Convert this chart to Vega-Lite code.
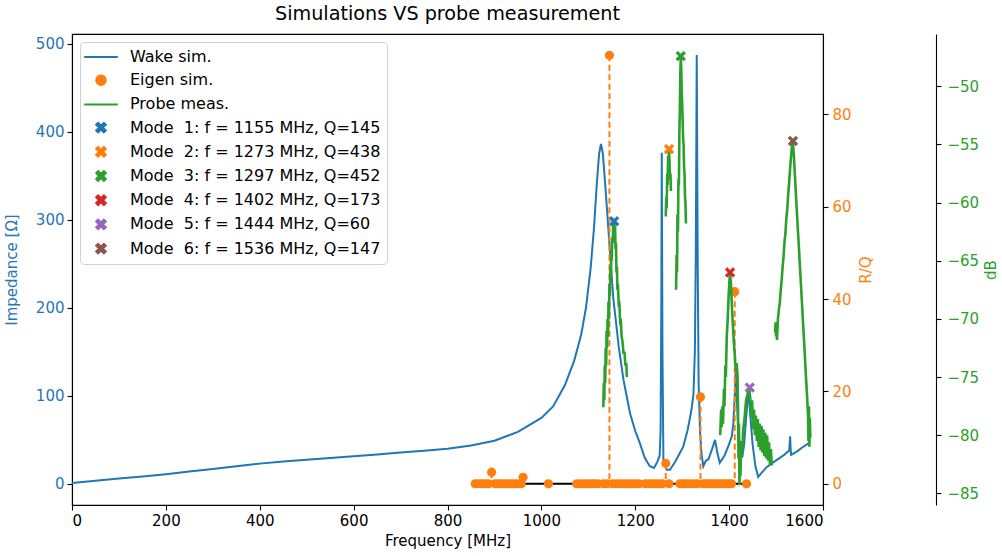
{
  "$schema": "https://vega.github.io/schema/vega-lite/v6.json",
  "width": 751,
  "height": 471,
  "autosize": {"type": "none"},
  "padding": {"left": 72, "top": 34, "right": 179, "bottom": 51},
  "title": {"text": "Simulations VS probe measurement", "fontSize": 19.2, "fontWeight": "normal", "font": "DejaVu Sans", "color": "#000", "offset": 10, "frame": "group", "anchor": "middle"},
  "config": {
    "font": "DejaVu Sans",
    "view": {"stroke": "#000", "strokeWidth": 1.1},
    "axis": {"grid": false, "tickColor": "#000", "domainColor": "#000", "domainWidth": 1.1, "tickWidth": 1.1, "tickSize": 5, "labelFontSize": 15, "titleFontSize": 15, "titleFontWeight": "normal", "labelPadding": 3, "labelColor": "#000", "titleColor": "#000"}
  },
  "datasets": {
    "wake": [
      {"f": 0, "z": 1}, {"f": 50, "z": 3.5}, {"f": 100, "z": 6}, {"f": 150, "z": 8.5}, {"f": 200, "z": 11}, {"f": 250, "z": 14}, {"f": 300, "z": 17}, {"f": 350, "z": 20}, {"f": 400, "z": 23}, {"f": 450, "z": 25.5}, {"f": 500, "z": 27.5}, {"f": 550, "z": 29.5}, {"f": 600, "z": 31.5}, {"f": 650, "z": 33.5}, {"f": 700, "z": 35.5}, {"f": 750, "z": 37.5}, {"f": 800, "z": 40}, {"f": 850, "z": 43.5}, {"f": 900, "z": 49}, {"f": 950, "z": 59}, {"f": 1000, "z": 75}, {"f": 1025, "z": 88}, {"f": 1050, "z": 112}, {"f": 1070, "z": 140}, {"f": 1085, "z": 170}, {"f": 1095, "z": 200}, {"f": 1105, "z": 245}, {"f": 1112, "z": 290}, {"f": 1118, "z": 340}, {"f": 1123, "z": 375}, {"f": 1127, "z": 386}, {"f": 1131, "z": 375}, {"f": 1136, "z": 340}, {"f": 1143, "z": 288}, {"f": 1153, "z": 212}, {"f": 1165, "z": 155}, {"f": 1175, "z": 118}, {"f": 1189, "z": 80}, {"f": 1200, "z": 60}, {"f": 1210, "z": 46}, {"f": 1220, "z": 30}, {"f": 1231, "z": 20}, {"f": 1240, "z": 18}, {"f": 1247, "z": 25}, {"f": 1252, "z": 32}, {"f": 1254, "z": 60}, {"f": 1255.5, "z": 200}, {"f": 1256.5, "z": 376}, {"f": 1258, "z": 150}, {"f": 1260, "z": 25}, {"f": 1267, "z": 16}, {"f": 1274, "z": 16}, {"f": 1285, "z": 25}, {"f": 1295, "z": 35}, {"f": 1302, "z": 42}, {"f": 1312, "z": 62}, {"f": 1320, "z": 85}, {"f": 1324, "z": 102}, {"f": 1327, "z": 150}, {"f": 1329, "z": 260}, {"f": 1331, "z": 487}, {"f": 1333, "z": 260}, {"f": 1335, "z": 115}, {"f": 1338, "z": 60}, {"f": 1341, "z": 35}, {"f": 1345, "z": 20}, {"f": 1350, "z": 26}, {"f": 1356, "z": 28}, {"f": 1364, "z": 40}, {"f": 1370, "z": 50}, {"f": 1375, "z": 35}, {"f": 1380, "z": 24}, {"f": 1390, "z": 32}, {"f": 1400, "z": 45}, {"f": 1406, "z": 55}, {"f": 1409, "z": 69}, {"f": 1412, "z": 100}, {"f": 1414, "z": 129}, {"f": 1417, "z": 90}, {"f": 1420, "z": 55}, {"f": 1423, "z": 42}, {"f": 1428, "z": 30}, {"f": 1432, "z": 45}, {"f": 1437, "z": 80}, {"f": 1441, "z": 107}, {"f": 1444, "z": 85}, {"f": 1450, "z": 45}, {"f": 1456, "z": 20}, {"f": 1462, "z": 8}, {"f": 1470, "z": 13}, {"f": 1480, "z": 19}, {"f": 1490, "z": 23}, {"f": 1501, "z": 27}, {"f": 1515, "z": 32}, {"f": 1528, "z": 38}, {"f": 1530, "z": 54}, {"f": 1531, "z": 40}, {"f": 1532, "z": 33}, {"f": 1545, "z": 37}, {"f": 1555, "z": 41}, {"f": 1569, "z": 46}
    ],
    "eigen": [
      {"f": 859, "rq": 0}, {"f": 866, "rq": 0}, {"f": 873, "rq": 0}, {"f": 880, "rq": 0}, {"f": 887, "rq": 0}, {"f": 894, "rq": 2.5}, {"f": 901, "rq": 0}, {"f": 908, "rq": 0}, {"f": 915, "rq": 0}, {"f": 922, "rq": 0}, {"f": 929, "rq": 0}, {"f": 936, "rq": 0}, {"f": 943, "rq": 0}, {"f": 950, "rq": 0}, {"f": 957, "rq": 0}, {"f": 961, "rq": 1.4},
      {"f": 1015, "rq": 0},
      {"f": 1075, "rq": 0}, {"f": 1083, "rq": 0}, {"f": 1091, "rq": 0}, {"f": 1099, "rq": 0}, {"f": 1106, "rq": 0}, {"f": 1113, "rq": 0}, {"f": 1120, "rq": 0},
      {"f": 1132, "rq": 0}, {"f": 1140, "rq": 0}, {"f": 1145, "rq": 92.8}, {"f": 1152, "rq": 0}, {"f": 1160, "rq": 0}, {"f": 1168, "rq": 0}, {"f": 1176, "rq": 0}, {"f": 1184, "rq": 0}, {"f": 1192, "rq": 0}, {"f": 1200, "rq": 0}, {"f": 1208, "rq": 0},
      {"f": 1221, "rq": 0}, {"f": 1228, "rq": 0}, {"f": 1236, "rq": 0}, {"f": 1243, "rq": 0}, {"f": 1250, "rq": 0}, {"f": 1258, "rq": 0}, {"f": 1265, "rq": 4.4}, {"f": 1272, "rq": 0},
      {"f": 1295, "rq": 0}, {"f": 1302, "rq": 0}, {"f": 1310, "rq": 0}, {"f": 1318, "rq": 0}, {"f": 1326, "rq": 0}, {"f": 1333, "rq": 0}, {"f": 1339, "rq": 18.8}, {"f": 1345, "rq": 0}, {"f": 1352, "rq": 0}, {"f": 1358, "rq": 0}, {"f": 1364, "rq": 0}, {"f": 1370, "rq": 0}, {"f": 1376, "rq": 0}, {"f": 1382, "rq": 0}, {"f": 1388, "rq": 0}, {"f": 1394, "rq": 0}, {"f": 1400, "rq": 0}, {"f": 1405, "rq": 0}, {"f": 1412, "rq": 41.6},
      {"f": 1437, "rq": 0}
    ],
    "probe": [
      {"seg": 1, "f": 1132, "db": -77.6}, {"seg": 1, "f": 1133, "db": -75.5}, {"seg": 1, "f": 1134, "db": -77}, {"seg": 1, "f": 1135, "db": -74}, {"seg": 1, "f": 1136, "db": -75.5}, {"seg": 1, "f": 1137, "db": -72.5}, {"seg": 1, "f": 1138, "db": -74}, {"seg": 1, "f": 1139, "db": -71}, {"seg": 1, "f": 1140, "db": -72.5}, {"seg": 1, "f": 1141, "db": -70}, {"seg": 1, "f": 1142, "db": -71.5}, {"seg": 1, "f": 1143, "db": -68.5}, {"seg": 1, "f": 1144, "db": -70}, {"seg": 1, "f": 1145, "db": -67}, {"seg": 1, "f": 1146, "db": -68}, {"seg": 1, "f": 1147, "db": -65.5}, {"seg": 1, "f": 1148, "db": -66.5}, {"seg": 1, "f": 1149, "db": -64.5}, {"seg": 1, "f": 1150, "db": -65}, {"seg": 1, "f": 1151, "db": -63}, {"seg": 1, "f": 1152, "db": -63.5}, {"seg": 1, "f": 1153, "db": -62}, {"seg": 1, "f": 1154, "db": -61.8}, {"seg": 1, "f": 1155, "db": -61.6}, {"seg": 1, "f": 1156, "db": -62.5}, {"seg": 1, "f": 1157, "db": -62}, {"seg": 1, "f": 1158, "db": -64}, {"seg": 1, "f": 1159, "db": -63.5}, {"seg": 1, "f": 1160, "db": -66}, {"seg": 1, "f": 1161, "db": -65.5}, {"seg": 1, "f": 1162, "db": -67.5}, {"seg": 1, "f": 1163, "db": -67}, {"seg": 1, "f": 1165, "db": -69}, {"seg": 1, "f": 1166, "db": -68.5}, {"seg": 1, "f": 1168, "db": -70.5}, {"seg": 1, "f": 1169, "db": -70}, {"seg": 1, "f": 1171, "db": -71.5}, {"seg": 1, "f": 1173, "db": -72}, {"seg": 1, "f": 1175, "db": -73}, {"seg": 1, "f": 1177, "db": -72.8}, {"seg": 1, "f": 1179, "db": -74}, {"seg": 1, "f": 1181, "db": -73.8}, {"seg": 1, "f": 1182, "db": -75},
      {"seg": 2, "f": 1265, "db": -61.2}, {"seg": 2, "f": 1266, "db": -59.5}, {"seg": 2, "f": 1267, "db": -60.5}, {"seg": 2, "f": 1268, "db": -57.5}, {"seg": 2, "f": 1269, "db": -58.5}, {"seg": 2, "f": 1270, "db": -56}, {"seg": 2, "f": 1271, "db": -56.5}, {"seg": 2, "f": 1272, "db": -55.5}, {"seg": 2, "f": 1273, "db": -56.5}, {"seg": 2, "f": 1274, "db": -58}, {"seg": 2, "f": 1275, "db": -57.5}, {"seg": 2, "f": 1276, "db": -59},
      {"seg": 3, "f": 1287, "db": -67.5}, {"seg": 3, "f": 1288, "db": -64.5}, {"seg": 3, "f": 1289, "db": -66}, {"seg": 3, "f": 1290, "db": -61}, {"seg": 3, "f": 1291, "db": -62.5}, {"seg": 3, "f": 1292, "db": -58}, {"seg": 3, "f": 1293, "db": -58.5}, {"seg": 3, "f": 1294, "db": -54}, {"seg": 3, "f": 1295, "db": -52}, {"seg": 3, "f": 1296, "db": -49}, {"seg": 3, "f": 1297, "db": -47.5}, {"seg": 3, "f": 1298, "db": -48.5}, {"seg": 3, "f": 1299, "db": -50.5}, {"seg": 3, "f": 1300, "db": -51.5}, {"seg": 3, "f": 1301, "db": -53}, {"seg": 3, "f": 1302, "db": -54.5}, {"seg": 3, "f": 1303, "db": -55}, {"seg": 3, "f": 1304, "db": -57}, {"seg": 3, "f": 1305, "db": -57.5}, {"seg": 3, "f": 1306, "db": -59.5}, {"seg": 3, "f": 1307, "db": -60}, {"seg": 3, "f": 1308, "db": -61.8},
      {"seg": 4, "f": 1381, "db": -80}, {"seg": 4, "f": 1383, "db": -77.8}, {"seg": 4, "f": 1384, "db": -79.3}, {"seg": 4, "f": 1386, "db": -77.5}, {"seg": 4, "f": 1387, "db": -79}, {"seg": 4, "f": 1389, "db": -76}, {"seg": 4, "f": 1390, "db": -77.5}, {"seg": 4, "f": 1392, "db": -74}, {"seg": 4, "f": 1393, "db": -75}, {"seg": 4, "f": 1395, "db": -71.5}, {"seg": 4, "f": 1397, "db": -70}, {"seg": 4, "f": 1399, "db": -68}, {"seg": 4, "f": 1401, "db": -66.5}, {"seg": 4, "f": 1402, "db": -66.1}, {"seg": 4, "f": 1404, "db": -67}, {"seg": 4, "f": 1406, "db": -69}, {"seg": 4, "f": 1408, "db": -70.5}, {"seg": 4, "f": 1410, "db": -72}, {"seg": 4, "f": 1412, "db": -73}, {"seg": 4, "f": 1414, "db": -74.5}, {"seg": 4, "f": 1416, "db": -73.8}, {"seg": 4, "f": 1418, "db": -75}, {"seg": 4, "f": 1419, "db": -78}, {"seg": 4, "f": 1420, "db": -82}, {"seg": 4, "f": 1421, "db": -79}, {"seg": 4, "f": 1422, "db": -84.3}, {"seg": 4, "f": 1423, "db": -81}, {"seg": 4, "f": 1424, "db": -83.5}, {"seg": 4, "f": 1426, "db": -80.5}, {"seg": 4, "f": 1428, "db": -81.5}, {"seg": 4, "f": 1430, "db": -79.5}, {"seg": 4, "f": 1433, "db": -78.5}, {"seg": 4, "f": 1436, "db": -77}, {"seg": 4, "f": 1439, "db": -76.5}, {"seg": 4, "f": 1441, "db": -76.2}, {"seg": 4, "f": 1443, "db": -76.1}, {"seg": 4, "f": 1445, "db": -76.8}, {"seg": 4, "f": 1447, "db": -78.5}, {"seg": 4, "f": 1449, "db": -77}, {"seg": 4, "f": 1451, "db": -79.5}, {"seg": 4, "f": 1453, "db": -77.8}, {"seg": 4, "f": 1455, "db": -80}, {"seg": 4, "f": 1457, "db": -78.3}, {"seg": 4, "f": 1459, "db": -80.5}, {"seg": 4, "f": 1461, "db": -78.6}, {"seg": 4, "f": 1463, "db": -81}, {"seg": 4, "f": 1465, "db": -79}, {"seg": 4, "f": 1467, "db": -81.3}, {"seg": 4, "f": 1469, "db": -79.2}, {"seg": 4, "f": 1471, "db": -81.5}, {"seg": 4, "f": 1473, "db": -79.5}, {"seg": 4, "f": 1475, "db": -81.8}, {"seg": 4, "f": 1477, "db": -79.8}, {"seg": 4, "f": 1479, "db": -82}, {"seg": 4, "f": 1481, "db": -80}, {"seg": 4, "f": 1483, "db": -82.2}, {"seg": 4, "f": 1485, "db": -80.6}, {"seg": 4, "f": 1487, "db": -82.5}, {"seg": 4, "f": 1489, "db": -81.2}, {"seg": 4, "f": 1491, "db": -82.6},
      {"seg": 5, "f": 1498, "db": -71.2}, {"seg": 5, "f": 1499, "db": -70.3}, {"seg": 5, "f": 1500, "db": -71.5}, {"seg": 5, "f": 1501, "db": -70.6}, {"seg": 5, "f": 1502, "db": -71.8}, {"seg": 5, "f": 1504, "db": -70}, {"seg": 5, "f": 1506, "db": -69.2}, {"seg": 5, "f": 1508, "db": -68.6}, {"seg": 5, "f": 1510, "db": -67.5}, {"seg": 5, "f": 1512, "db": -66.6}, {"seg": 5, "f": 1514, "db": -65.5}, {"seg": 5, "f": 1516, "db": -64.6}, {"seg": 5, "f": 1518, "db": -63.4}, {"seg": 5, "f": 1520, "db": -62.6}, {"seg": 5, "f": 1522, "db": -61.3}, {"seg": 5, "f": 1524, "db": -60.5}, {"seg": 5, "f": 1526, "db": -59.2}, {"seg": 5, "f": 1528, "db": -58.2}, {"seg": 5, "f": 1530, "db": -57}, {"seg": 5, "f": 1532, "db": -56}, {"seg": 5, "f": 1534, "db": -55}, {"seg": 5, "f": 1535, "db": -54.7}, {"seg": 5, "f": 1536, "db": -54.9}, {"seg": 5, "f": 1538, "db": -56}, {"seg": 5, "f": 1540, "db": -57.5}, {"seg": 5, "f": 1543, "db": -59.8}, {"seg": 5, "f": 1546, "db": -62}, {"seg": 5, "f": 1549, "db": -64.1}, {"seg": 5, "f": 1552, "db": -66.3}, {"seg": 5, "f": 1555, "db": -68.5}, {"seg": 5, "f": 1558, "db": -70.7}, {"seg": 5, "f": 1561, "db": -72.9}, {"seg": 5, "f": 1564, "db": -75.2}, {"seg": 5, "f": 1566, "db": -76.6}, {"seg": 5, "f": 1568, "db": -78.2}, {"seg": 5, "f": 1569, "db": -80.5}, {"seg": 5, "f": 1570, "db": -77.5}, {"seg": 5, "f": 1571, "db": -81}, {"seg": 5, "f": 1572, "db": -78.5}, {"seg": 5, "f": 1573, "db": -80.2}
    ],
    "modes": [
      {"series": "Mode\u00a0 1: f = 1155 MHz, Q=145", "f": 1155, "db": -61.6},
      {"series": "Mode\u00a0 2: f = 1273 MHz, Q=438", "f": 1272, "db": -55.4},
      {"series": "Mode\u00a0 3: f = 1297 MHz, Q=452", "f": 1297, "db": -47.4},
      {"series": "Mode\u00a0 4: f = 1402 MHz, Q=173", "f": 1402, "db": -66.0},
      {"series": "Mode\u00a0 5: f = 1444 MHz, Q=60", "f": 1444, "db": -75.9},
      {"series": "Mode\u00a0 6: f = 1536 MHz, Q=147", "f": 1536, "db": -54.7}
    ]
  },
  "layer": [
    {
      "data": {"name": "wake"},
      "mark": {"type": "line", "color": "#1f77b4", "strokeWidth": 2},
      "encoding": {
        "x": {"field": "f", "type": "quantitative", "scale": {"domain": [0, 1600], "nice": false, "zero": false}, "axis": {"title": "Frequency [MHz]", "format": "d", "values": [0, 200, 400, 600, 800, 1000, 1200, 1400, 1600], "titlePadding": 5}},
        "y": {"field": "z", "type": "quantitative", "scale": {"domain": [-24, 511], "nice": false, "zero": false}, "axis": {"orient": "left", "title": "Impedance [Ω]", "values": [0, 100, 200, 300, 400, 500], "labelColor": "#1f77b4", "titleColor": "#1f77b4", "titlePadding": 16}}
      }
    },
    {
      "data": {"name": "eigen"},
      "layer": [
        {
          "mark": {"type": "rule", "color": "#ff7f0e", "strokeWidth": 2, "strokeDash": [6, 3.5]},
          "encoding": {
            "x": {"field": "f", "type": "quantitative"},
            "y": {"field": "rq", "type": "quantitative", "scale": {"domain": [-4.6, 97.4], "nice": false, "zero": false}, "axis": {"orient": "right", "title": "R/Q", "values": [0, 20, 40, 60, 80], "labelColor": "#ff7f0e", "titleColor": "#ff7f0e", "titleAngle": 270, "titlePadding": 22, "labelPadding": 4}},
            "y2": {"datum": 0}
          }
        },
        {
          "mark": {"type": "rule", "color": "#000000", "strokeWidth": 2},
          "encoding": {
            "x": {"aggregate": "min", "field": "f", "type": "quantitative"},
            "x2": {"aggregate": "max", "field": "f"},
            "y": {"datum": 0, "type": "quantitative"}
          }
        },
        {
          "mark": {"type": "point", "shape": "circle", "filled": true, "color": "#ff7f0e", "size": 85, "opacity": 1},
          "encoding": {
            "x": {"field": "f", "type": "quantitative"},
            "y": {"field": "rq", "type": "quantitative"}
          }
        }
      ]
    },
    {
      "layer": [
        {
          "data": {"name": "probe"},
          "mark": {"type": "line", "color": "#2ca02c", "strokeWidth": 2.6},
          "encoding": {
            "x": {"field": "f", "type": "quantitative"},
            "y": {"field": "db", "type": "quantitative", "scale": {"domain": [-86.0, -45.5], "nice": false, "zero": false}, "axis": {"orient": "right", "offset": 113, "title": "dB", "values": [-85, -80, -75, -70, -65, -60, -55, -50], "labelColor": "#2ca02c", "titleColor": "#2ca02c", "titleAngle": 270, "titlePadding": 20, "labelPadding": 6}},
            "detail": {"field": "seg", "type": "nominal"}
          }
        },
        {
          "data": {"name": "modes"},
          "mark": {"type": "point", "filled": true, "size": 256, "opacity": 1, "strokeWidth": 0.8},
          "encoding": {
            "x": {"field": "f", "type": "quantitative"},
            "y": {"field": "db", "type": "quantitative"},
            "fill": {
              "field": "series", "type": "nominal",
              "scale": {
                "domain": ["Wake sim.", "Eigen sim.", "Probe meas.", "Mode\u00a0 1: f = 1155 MHz, Q=145", "Mode\u00a0 2: f = 1273 MHz, Q=438", "Mode\u00a0 3: f = 1297 MHz, Q=452", "Mode\u00a0 4: f = 1402 MHz, Q=173", "Mode\u00a0 5: f = 1444 MHz, Q=60", "Mode\u00a0 6: f = 1536 MHz, Q=147"],
                "range": ["#1f77b4", "#ff7f0e", "#2ca02c", "#1f77b4", "#ff7f0e", "#2ca02c", "#d62728", "#9467bd", "#8c564b"]
              },
              "legend": {"title": null, "orient": "none", "legendX": 8, "legendY": 8, "padding": 6, "fillColor": "white", "strokeColor": "#d0d0d0", "cornerRadius": 4, "labelFontSize": 16, "labelLimit": 500, "labelColor": "#000", "symbolStrokeWidth": 2, "symbolSize": 256, "symbolOffset": 6, "labelOffset": 20, "rowPadding": 6.2}
            },
            "stroke": {
              "field": "series", "type": "nominal",
              "scale": {
                "domain": ["Wake sim.", "Eigen sim.", "Probe meas.", "Mode\u00a0 1: f = 1155 MHz, Q=145", "Mode\u00a0 2: f = 1273 MHz, Q=438", "Mode\u00a0 3: f = 1297 MHz, Q=452", "Mode\u00a0 4: f = 1402 MHz, Q=173", "Mode\u00a0 5: f = 1444 MHz, Q=60", "Mode\u00a0 6: f = 1536 MHz, Q=147"],
                "range": ["#1f77b4", "#ff7f0e", "#2ca02c", "#1f77b4", "#ff7f0e", "#2ca02c", "#d62728", "#9467bd", "#8c564b"]
              }
            },
            "shape": {
              "field": "series", "type": "nominal",
              "scale": {
                "domain": ["Wake sim.", "Eigen sim.", "Probe meas.", "Mode\u00a0 1: f = 1155 MHz, Q=145", "Mode\u00a0 2: f = 1273 MHz, Q=438", "Mode\u00a0 3: f = 1297 MHz, Q=452", "Mode\u00a0 4: f = 1402 MHz, Q=173", "Mode\u00a0 5: f = 1444 MHz, Q=60", "Mode\u00a0 6: f = 1536 MHz, Q=147"],
                "range": ["M-2.1,0L2.1,0", "M-0.6,0A0.6,0.6,0,1,1,0.6,0A0.6,0.6,0,1,1,-0.6,0Z", "M-2.1,0L2.1,0", "M-0.6,-0.36L-0.36,-0.6L0,-0.24L0.36,-0.6L0.6,-0.36L0.24,0L0.6,0.36L0.36,0.6L0,0.24L-0.36,0.6L-0.6,0.36L-0.24,0Z", "M-0.6,-0.36L-0.36,-0.6L0,-0.24L0.36,-0.6L0.6,-0.36L0.24,0L0.6,0.36L0.36,0.6L0,0.24L-0.36,0.6L-0.6,0.36L-0.24,0Z", "M-0.6,-0.36L-0.36,-0.6L0,-0.24L0.36,-0.6L0.6,-0.36L0.24,0L0.6,0.36L0.36,0.6L0,0.24L-0.36,0.6L-0.6,0.36L-0.24,0Z", "M-0.6,-0.36L-0.36,-0.6L0,-0.24L0.36,-0.6L0.6,-0.36L0.24,0L0.6,0.36L0.36,0.6L0,0.24L-0.36,0.6L-0.6,0.36L-0.24,0Z", "M-0.6,-0.36L-0.36,-0.6L0,-0.24L0.36,-0.6L0.6,-0.36L0.24,0L0.6,0.36L0.36,0.6L0,0.24L-0.36,0.6L-0.6,0.36L-0.24,0Z", "M-0.6,-0.36L-0.36,-0.6L0,-0.24L0.36,-0.6L0.6,-0.36L0.24,0L0.6,0.36L0.36,0.6L0,0.24L-0.36,0.6L-0.6,0.36L-0.24,0Z"]
              }
            }
          }
        }
      ]
    }
  ],
  "resolve": {"scale": {"y": "independent"}}
}
